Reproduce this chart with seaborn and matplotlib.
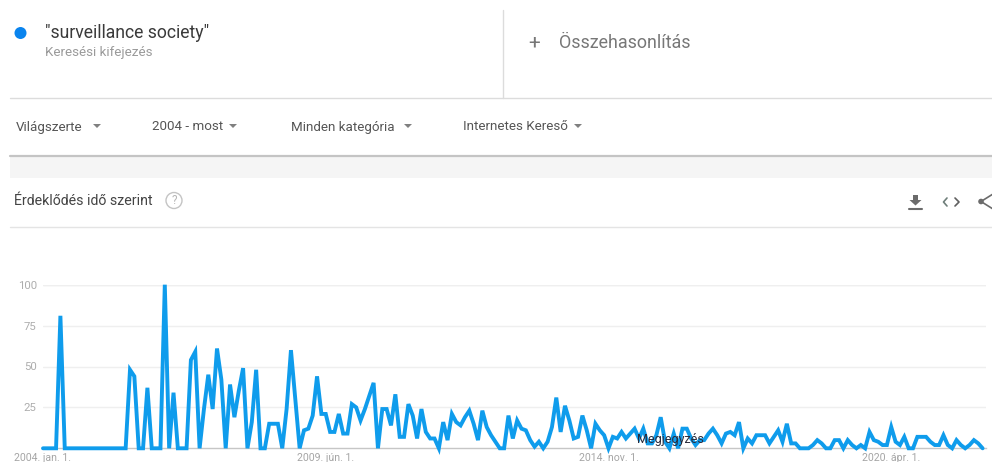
import matplotlib
matplotlib.use("Agg")
import matplotlib.pyplot as plt
from matplotlib.patches import Circle, Rectangle, Polygon
import numpy as np
import pandas as pd
import seaborn as sns

# Monthly interest values, 2004-01 onward
values = [
    0, 0, 0, 0, 81, 0, 0, 0, 0, 0, 0, 0, 0, 0, 0, 0, 0, 0, 0, 0,
    48, 44, 0, 0, 37, 0, 0, 0, 100, 0, 34, 0, 0, 0, 54, 59, 0, 24, 45, 24,
    61, 42, 0, 39, 19, 35, 49, 0, 16, 48, 0, 0, 15, 15, 15, 0, 24, 60, 30, 0,
    11, 12, 20, 44, 21, 21, 10, 10, 21, 9, 9, 27, 25, 17, 24, 32, 40, 0, 24, 24,
    14, 33, 7, 7, 27, 20, 6, 24, 10, 6, 6, 0, 16, 5, 21, 16, 14, 19, 23, 15,
    5, 23, 13, 8, 4, 0, 0, 20, 6, 17, 12, 11, 5, 1, 4, 0, 4, 13, 31, 10,
    26, 17, 6, 7, 20, 11, 0, 15, 11, 8, 0, 7, 6, 10, 6, 9, 12, 6, 12, 3,
    3, 8, 19, 4, 0, 9, 0, 12, 12, 6, 2, 5, 5, 9, 12, 8, 3, 9, 10, 8,
    16, 0, 6, 3, 8, 8, 8, 3, 7, 11, 4, 15, 3, 3, 0, 0, 0, 2, 5, 3,
    0, 0, 5, 5, 0, 5, 2, 0, 2, 0, 10, 5, 4, 2, 2, 13, 4, 2, 7, 0,
    0, 7, 7, 7, 4, 2, 2, 8, 2, 0, 5, 2, 0, 2, 5, 3, 0,
]
y_ticks = [25, 50, 75, 100]
x_tick_months = [0, 65, 130, 195]
x_tick_labels = ["2004. jan. 1.", "2009. jún. 1.", "2014. nov. 1.", "2020. ápr. 1."]

W, H = 992, 462
sns.set_theme(style="white")
plt.rcParams["font.family"] = ["Roboto", "DejaVu Sans"]

fig = plt.figure(figsize=(W / 100, H / 100), dpi=100, facecolor="white")

# Page chrome in pixel coordinates
bg = fig.add_axes([0, 0, 1, 1])
bg.set_xlim(0, W)
bg.set_ylim(H, 0)
bg.axis("off")
bg.add_patch(Rectangle((10, 157), 982, 21, color="#f5f5f5", lw=0))
bg.plot([10, 992], [98, 98], color="#dcdcdc", lw=1)
bg.plot([502.5, 502.5], [10, 98], color="#dcdcdc", lw=1)
bg.plot([10, 992], [156, 156], color="#c4c4c4", lw=1.6)
bg.plot([10, 992], [227, 227], color="#e4e4e4", lw=1)
bg.add_patch(Circle((20.5, 33), 6, color="#0a84ee", lw=0))
bg.text(45, 32.5, '"surveillance society"', fontsize=12.7, color="#3a3a3a", va="center")
bg.text(45, 52.5, "Keresési kifejezés", fontsize=9.65, color="#9a9a9a", va="center")
bg.text(534.5, 43, "+", fontsize=15, color="#777777", va="center", ha="center")
bg.text(559, 43.5, "Összehasonlítás", fontsize=12.9, color="#777777", va="center")

filters = [("Világszerte", 16, 97), ("2004 - most", 152, 233),
           ("Minden kategória", 291, 408), ("Internetes Kereső", 463, 578)]
for label, x, arrow in filters:
    bg.text(x, 127, label, fontsize=9.6, color="#555555", va="center")
    bg.add_patch(Polygon([(arrow - 4, 124), (arrow + 4, 124), (arrow, 128)],
                         color="#808080", lw=0))

bg.text(14, 201, "Érdeklődés idő szerint", fontsize=10.2, color="#444444", va="center")
bg.add_patch(Circle((174, 200.5), 8, fill=False, ec="#c4c4c4", lw=1))
bg.text(174, 200.5, "?", fontsize=8.5, color="#b5b5b5", va="center", ha="center")

# Download icon
bg.add_patch(Polygon([(913, 195), (918, 195), (918, 200), (921.5, 200), (915.5, 205.5), (909.5, 200), (913, 200)],
                     color="#6b6b6b", lw=0))
bg.plot([909, 922], [208.5, 208.5], color="#6b6b6b", lw=1.5)
# Embed icon
bg.plot([947, 943.5, 947], [198, 202, 206], color="#6f7f7a", lw=1.2)
bg.plot([955, 959, 955], [198, 202, 206], color="#5f5f5f", lw=1.2)
# Share icon, cut by the right edge
bg.plot([993, 981, 993], [194, 201.5, 209], color="#6b6b6b", lw=1.2)
bg.add_patch(Circle((981, 201.5), 2.8, color="#6b6b6b", lw=0))

# Chart area: month 0 at x=43 px, 4.35 px/month; value 0 at y=448.3 px, 1.636 px/unit
px_per_month = 4.35
left_px, right_px = 43.0, 986.0
top_px, bottom_px = 284.7, 448.3
ax = fig.add_axes([left_px / W, 1 - bottom_px / H, (right_px - left_px) / W, (bottom_px - top_px) / H])
ax.patch.set_alpha(0)
df = pd.DataFrame({"month": np.arange(len(values)), "interest": values})
sns.lineplot(data=df, x="month", y="interest", ax=ax, color="#0f9cec", lw=2.8, clip_on=False,
             solid_joinstyle="miter", zorder=3)
ax.set_xlim(0, (right_px - left_px) / px_per_month)
ax.set_ylim(0, 100)
ax.set_xlabel("")
ax.set_ylabel("")
ax.set_yticks(y_ticks)
ax.set_yticklabels([str(v) for v in y_ticks], fontsize=8.2, color="#adadad")
ax.set_xticks(x_tick_months)
ax.set_xticklabels(x_tick_labels, fontsize=7.6, color="#a5a5a5")
ax.tick_params(axis="both", length=0)
ax.tick_params(axis="x", pad=3.5)
ax.tick_params(axis="y", pad=4.5)
ax.grid(axis="y", color="#efefef", lw=1)
ax.axhline(100, color="#efefef", lw=1, zorder=0)
for s in ["top", "right", "left"]:
    ax.spines[s].set_visible(False)
ax.spines["bottom"].set_color("#c6c6c6")
ax.spines["bottom"].set_linewidth(1)

fg = fig.add_axes([0, 0, 1, 1])
fg.set_xlim(0, W)
fg.set_ylim(H, 0)
fg.axis("off")
fg.patch.set_alpha(0)
fg.text(670, 439.5, "Megjegyzés", fontsize=9, color="#2b2b3a", va="center", ha="center")

fig.savefig("out.png", dpi=100, facecolor="white")
